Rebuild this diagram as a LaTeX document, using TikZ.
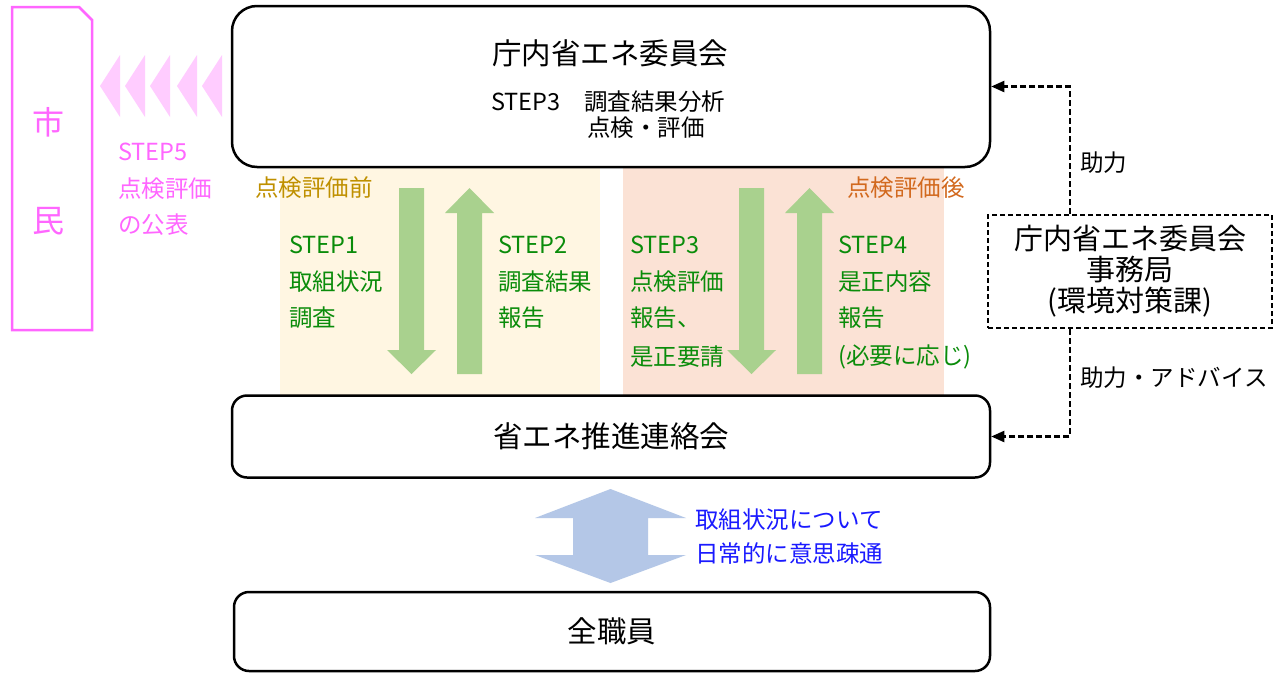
\documentclass[tikz,border=0pt]{standalone}
\usepackage{fontspec}
\setmainfont{Noto Sans CJK JP}
\usetikzlibrary{arrows.meta}
\definecolor{pinkline}{HTML}{FF66FF}
\definecolor{pinkfill}{HTML}{FFCCFF}
\definecolor{yellowbg}{HTML}{FFF6E2}
\definecolor{peachbg}{HTML}{FBE2D5}
\definecolor{greenarrow}{HTML}{A9D18E}
\definecolor{greentext}{HTML}{0A8C0A}
\definecolor{goldtext}{HTML}{BF9000}
\definecolor{orangetext}{HTML}{D2691E}
\definecolor{bluearrow}{HTML}{B4C7E7}
\definecolor{bluetext}{HTML}{1A1AFF}
\newcommand\myfs[1]{\fontsize{#1}{#1}\selectfont}
\begin{document}
\begin{tikzpicture}[x=1pt,y=-1pt,
  rbox/.style={draw=black, line width=2.5pt, rounded corners=#1, inner sep=0pt},
  rbox/.default=15pt,
  lbl/.style={inner sep=0pt, anchor=west},
  gtxt/.style={lbl, text=greentext, font=\myfs{23.5}},
  ptxt/.style={lbl, text=pinkline, font=\myfs{23.5}},
  btxt/.style={lbl, text=bluetext, font=\myfs{23.5}},
  ktxt/.style={lbl, text=black, font=\myfs{23.5}},
  dconn/.style={draw=black, line width=2.2pt, dash pattern=on 6pt off 3pt, -{Triangle[length=13pt,width=11pt]}},
]
\useasboundingbox (0,0) rectangle (1284,672);
\fill[white] (0,0) rectangle (1284,672);

% background panels
\fill[yellowbg] (280,167) rectangle (600,395);
\fill[peachbg] (623,167) rectangle (944,395);

% citizens box
\draw[pinkline, line width=2.5pt] (12,330) -- (12,7) -- (79,7) -- (92,20) -- (92,330) -- cycle;
\node[inner sep=0pt, text=pinkline, font=\myfs{32}] (shi) at (48,122) {市};
\node[inner sep=0pt, text=pinkline, font=\myfs{32}] (min) at (48,221) {民};

% chevrons
\foreach \x in {100,125,150,177,202}
  \fill[pinkfill] (\x,86) -- (\x+20,55) -- (\x+20,117) -- cycle;

\node[ptxt] (s5a) at (118,152) {STEP5};
\node[ptxt] (s5b) at (118,189) {点検評価};
\node[ptxt] (s5c) at (118,225) {の公表};

% main boxes
\node[rbox=25pt, minimum width=758pt, minimum height=161pt] (iinkai) at (611,86.5) {};
\node[inner sep=0pt, font=\myfs{29.5}] (iinkaiT) at (610,53) {庁内省エネ委員会};
\node[ktxt] (iinkaiS1) at (491,102) {STEP3　調査結果分析};
\node[ktxt] (iinkaiS2) at (587,128) {点検・評価};

\node[rbox=15pt, minimum width=758pt, minimum height=82pt, font=\myfs{29.5}] (renraku) at (611,436.5) {省エネ推進連絡会};
\node[rbox=15pt, minimum width=756pt, minimum height=79pt, font=\myfs{29.5}] (zen) at (612,631.5) {全職員};

% phase labels
\node[lbl, text=goldtext, font=\myfs{23.5}] (mae) at (255,188) {点検評価前};
\node[lbl, text=orangetext, font=\myfs{23.5}] (ato) at (847,188) {点検評価後};

% green arrows
\fill[greenarrow] (399,188) -- (424,188) -- (424,350) -- (436,350) -- (411.5,374) -- (387,350) -- (399,350) -- cycle;
\fill[greenarrow] (457,374) -- (482,374) -- (482,213) -- (494,213) -- (469.5,188) -- (445,213) -- (457,213) -- cycle;
\fill[greenarrow] (739,188) -- (764,188) -- (764,350) -- (776,350) -- (751.5,374) -- (727,350) -- (739,350) -- cycle;
\fill[greenarrow] (797,374) -- (822,374) -- (822,213) -- (834,213) -- (809.5,188) -- (785,213) -- (797,213) -- cycle;

% green texts
\node[gtxt] (s1a) at (289,245) {STEP1};
\node[gtxt] (s1b) at (289,282) {取組状況};
\node[gtxt] (s1c) at (289,318) {調査};
\node[gtxt] (s2a) at (498,245) {STEP2};
\node[gtxt] (s2b) at (498,282) {調査結果};
\node[gtxt] (s2c) at (498,318) {報告};
\node[gtxt] (s3a) at (630,245) {STEP3};
\node[gtxt] (s3b) at (630,282) {点検評価};
\node[gtxt] (s3c) at (630,318) {報告、};
\node[gtxt] (s3d) at (630,357) {是正要請};
\node[gtxt] (s4a) at (838,245) {STEP4};
\node[gtxt] (s4b) at (838,282) {是正内容};
\node[gtxt] (s4c) at (838,318) {報告};
\node[gtxt] (s4d) at (838,357) {(必要に応じ)};

% blue double arrow
\fill[bluearrow] (573,518) -- (535,518) -- (610.5,489) -- (686,518) -- (648,518) -- (648,555) -- (686,555) -- (610.5,583) -- (535,555) -- (573,555) -- cycle;
\node[btxt] (b1) at (695,520) {取組状況について};
\node[btxt] (b2) at (695,554) {日常的に意思疎通};

% secretariat
\node[draw=black, line width=2.2pt, dash pattern=on 5pt off 3pt, minimum width=284pt, minimum height=113pt, inner sep=0pt, align=center, font=\fontsize{29}{31}\selectfont] (jimu) at (1130,271.5) {庁内省エネ委員会\\事務局\\(環境対策課)};

\draw[dconn] ([xshift=83pt]jimu.north west) |- (iinkai.east);
\draw[dconn] ([xshift=83pt]jimu.south west) |- (renraku.east);
\node[ktxt] (jo1) at (1080,163) {助力};
\node[ktxt] (jo2) at (1080,378) {助力・アドバイス};
\end{tikzpicture}
\end{document}
